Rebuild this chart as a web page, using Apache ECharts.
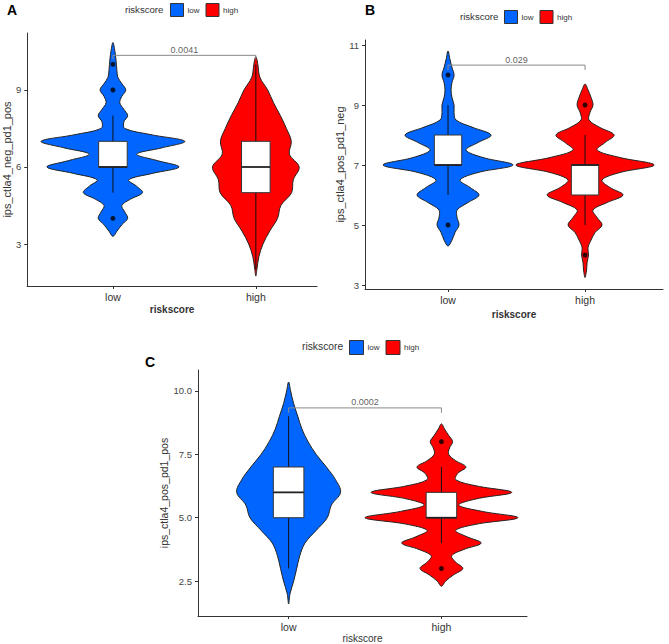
<!DOCTYPE html>
<html><head><meta charset="utf-8">
<script src="https://cdn.jsdelivr.net/npm/echarts@6/dist/echarts.min.js"></script>
<style>html,body{margin:0;padding:0;background:#fff}#c{width:669px;height:644px}</style>
</head><body><div id="c"></div>
<script>
// ---------- data ----------
const categories = ['low', 'high'];
const legendTitle = 'riskscore';
const panelLabels = ['A', 'B', 'C'];
const yNames = ['ips_ctla4_neg_pd1_pos', 'ips_ctla4_pos_pd1_neg', 'ips_ctla4_pos_pd1_pos'];
const yTicksA = [3, 6, 9];
const yTicksB = [3, 5, 7, 9, 11];
const yTicksC = [2.5, 5, 7.5, 10];
const pValues = ['0.0041', '0.029', '0.0002'];

// violin profiles: [score, half-width in category units]
const violinA_low = [[3.3,0],[3.5,0.028],[3.75,0.062],[4,0.103],[4.25,0.083],[4.5,0.062],[4.75,0.124],[5,0.207],[5.25,0.166],[5.5,0.11],[5.75,0.276],[6,0.462],[6.25,0.31],[6.5,0.166],[6.75,0.345],[7,0.503],[7.25,0.276],[7.5,0.083],[7.75,0.076],[8,0.103],[8.25,0.076],[8.5,0.048],[8.75,0.062],[9,0.09],[9.25,0.062],[9.5,0.034],[9.75,0.028],[10,0.024],[10.25,0.02],[10.5,0.014],[10.85,0]];
const violinA_high = [[1.75,0],[2,0.007],[2.5,0.021],[3,0.05],[3.5,0.097],[4,0.152],[4.5,0.175],[5,0.25],[5.5,0.262],[6,0.303],[6.5,0.235],[7,0.248],[7.5,0.214],[8,0.172],[8.5,0.124],[9,0.083],[9.5,0.028],[10,0.014],[10.3,0]];
const violinB_low = [[4.3,0],[4.5,0.029],[4.75,0.051],[5,0.08],[5.25,0.066],[5.5,0.066],[5.75,0.146],[6,0.226],[6.25,0.161],[6.5,0.088],[6.75,0.219],[7,0.474],[7.25,0.255],[7.5,0.131],[7.75,0.219],[8,0.314],[8.25,0.182],[8.5,0.058],[8.75,0.044],[9,0.044],[9.25,0.029],[9.5,0.022],[9.75,0.029],[10,0.044],[10.25,0.029],[10.5,0.015],[10.8,0]];
const violinB_high = [[3.25,0],[3.5,0.011],[3.75,0.015],[4,0.025],[4.25,0.022],[4.5,0.044],[4.75,0.073],[5,0.124],[5.25,0.088],[5.5,0.058],[5.75,0.161],[6,0.277],[6.25,0.182],[6.5,0.124],[6.75,0.255],[7,0.504],[7.25,0.255],[7.5,0.088],[7.75,0.146],[8,0.212],[8.25,0.109],[8.5,0.029],[8.75,0.036],[9,0.058],[9.25,0.044],[9.5,0.022],[9.7,0]];
const violinC_low = [[1.6,0],[2,0.009],[2.5,0.033],[3,0.053],[3.5,0.073],[4,0.107],[4.5,0.18],[5,0.253],[5.5,0.28],[6,0.34],[6.5,0.307],[7,0.247],[7.5,0.18],[8,0.127],[8.5,0.087],[9,0.06],[9.5,0.033],[10,0.013],[10.35,0]];
const violinC_high = [[2.3,0],[2.5,0.027],[2.75,0.08],[3,0.14],[3.25,0.093],[3.5,0.067],[3.75,0.147],[4,0.26],[4.25,0.167],[4.5,0.093],[4.75,0.233],[5,0.5],[5.25,0.267],[5.5,0.113],[5.75,0.233],[6,0.46],[6.25,0.233],[6.5,0.093],[6.75,0.107],[7,0.16],[7.25,0.093],[7.5,0.047],[7.75,0.053],[8,0.073],[8.25,0.047],[8.5,0.02],[8.7,0]];

// boxes: [category (1=low, 2=high), q1, median, q3, whisker low, whisker high]
const boxA = [[1,6,6,7,5,8],[2,5,6,7,2,10]];
const boxB = [[1,7,7,8,6,9],[2,6,7,7,5,8]];
const boxC = [[1,5,6,7,3,9],[2,5,5,6,4,7]];
// outliers: [category, score]
const outliersA = [[1,4],[1,9],[1,10]];
const outliersB = [[1,5],[1,10],[2,4],[2,9]];
const outliersC = [[2,3],[2,8]];
// significance bracket: [tip level, bar level]
const bracketA = [10.2, 10.35];
const bracketB = [10.17, 10.33];
const bracketC = [9.14, 9.33];

// ---------- drawing ----------
const FONT = 'Liberation Sans, Arial, sans-serif';
const BLUE = '#0066ff', RED = '#ff0000';
const BOX_HW = 0.1;

function violinItem(params, api) {
  if (params.dataIndexInside !== 0) return null;
  const n = params.dataInsideLength;
  const right = [], left = [];
  for (let i = 0; i < n; i++) {
    const c = api.value(0, i), y = api.value(1, i), w = api.value(2, i);
    right.push(api.coord([c + w, y]));
    if (w > 0) left.unshift(api.coord([c - w, y]));
  }
  return {
    type: 'polygon',
    shape: { points: right.concat(left), smooth: 0.35 },
    style: { fill: api.visual('color'), stroke: '#222', lineWidth: 1 }
  };
}
function boxItem(params, api) {
  const x = api.value(0), q1 = api.value(1), med = api.value(2), q3 = api.value(3), lo = api.value(4), hi = api.value(5);
  const pLo = api.coord([x, lo]), pQ1 = api.coord([x, q1]), pQ3 = api.coord([x, q3]), pHi = api.coord([x, hi]);
  const tl = api.coord([x - BOX_HW, q3]), br = api.coord([x + BOX_HW, q1]);
  const ml = api.coord([x - BOX_HW, med]), mr = api.coord([x + BOX_HW, med]);
  return { type: 'group', children: [
    { type: 'line', shape: { x1: pLo[0], y1: pLo[1], x2: pQ1[0], y2: pQ1[1] }, style: { stroke: '#111', lineWidth: 1 } },
    { type: 'line', shape: { x1: pQ3[0], y1: pQ3[1], x2: pHi[0], y2: pHi[1] }, style: { stroke: '#111', lineWidth: 1 } },
    { type: 'rect', shape: { x: tl[0], y: tl[1], width: br[0] - tl[0], height: br[1] - tl[1] }, style: { fill: '#fff', stroke: '#333', lineWidth: 1 } },
    { type: 'line', shape: { x1: ml[0], y1: ml[1], x2: mr[0], y2: mr[1] }, style: { stroke: '#222', lineWidth: 1.8 } }
  ]};
}

const grids = [
  { left: 23, top: 33, width: 294, height: 253 },
  { left: 365, top: 40, width: 298, height: 249 },
  { left: 198, top: 370, width: 329, height: 247 }
];
const xRanges = [[0.4, 2.428], [0.394, 2.569], [0.407, 2.56]];
const yRanges = [[1.364, 11.22], [2.867, 11.167], [1.126, 10.824]];
const yTicks = [yTicksA, yTicksB, yTicksC];
const yNameGaps = [12, 15, 28];
const xNameGaps = [18, 20, 17];
const xNameBold = ['bold', 'bold', 'normal'];
const violins = [[violinA_low, violinA_high], [violinB_low, violinB_high], [violinC_low, violinC_high]];
const boxes = [boxA, boxB, boxC];
const outliers = [outliersA, outliersB, outliersC];
const brackets = [bracketA, bracketB, bracketC];
const tickFont = [9.5, 9.5, 9.5];
const yNameFont = [11, 11, 10.5];

const xAxis = [], yAxis = [], series = [];
for (let p = 0; p < 3; p++) {
  xAxis.push({
    type: 'value', gridIndex: p, min: xRanges[p][0], max: xRanges[p][1],
    name: legendTitle, nameLocation: 'middle', nameGap: xNameGaps[p],
    nameTextStyle: { fontFamily: FONT, fontSize: 10, fontWeight: xNameBold[p], color: '#333' },
    axisLine: { show: true, onZero: false, lineStyle: { color: '#333', width: 1 } },
    axisTick: { show: true, length: 3, customValues: [1, 2], lineStyle: { color: '#333' } },
    axisLabel: { customValues: [1, 2], formatter: v => categories[Math.round(v) - 1], fontFamily: FONT, fontSize: 10.5, color: '#333', margin: 5 },
    splitLine: { show: false }
  });
  yAxis.push({
    type: 'value', gridIndex: p, min: yRanges[p][0], max: yRanges[p][1],
    name: yNames[p], nameLocation: 'middle', nameGap: yNameGaps[p],
    nameTextStyle: { fontFamily: FONT, fontSize: yNameFont[p], color: '#333' },
    axisLine: { show: true, onZero: false, lineStyle: { color: '#333', width: 1 } },
    axisTick: { show: true, length: 3, customValues: yTicks[p], lineStyle: { color: '#333' } },
    axisLabel: { customValues: yTicks[p], formatter: v => (p === 2 ? v.toFixed(1) : String(v)), fontFamily: FONT, fontSize: tickFont[p], color: '#444', margin: 6 },
    splitLine: { show: false }
  });
  const colors = [BLUE, RED];
  for (let k = 0; k < 2; k++) {
    series.push({
      type: 'custom', name: categories[k], xAxisIndex: p, yAxisIndex: p,
      itemStyle: { color: colors[k] },
      renderItem: violinItem, encode: { x: 0, y: 1 },
      data: violins[p][k].map(d => [k + 1, d[0], d[1]]), z: 2, silent: true
    });
  }
  series.push({
    type: 'custom', name: 'box' + p, xAxisIndex: p, yAxisIndex: p,
    renderItem: boxItem, encode: { x: 0, y: [1, 2, 3, 4, 5] }, data: boxes[p], z: 3, silent: true
  });
  series.push({
    type: 'scatter', name: 'outlier' + p, xAxisIndex: p, yAxisIndex: p,
    data: outliers[p], symbolSize: 5, itemStyle: { color: '#000' }, z: 4, silent: true
  });
  const b = brackets[p];
  series.push({
    type: 'line', name: 'bracket' + p, xAxisIndex: p, yAxisIndex: p,
    data: [[1, b[0]], [1, b[1]], [2, b[1]], [2, b[0]]], symbol: 'none',
    lineStyle: { color: '#8a8a8a', width: 1 }, z: 5, silent: true, animation: false
  });
  series.push({
    type: 'scatter', name: 'p' + p, xAxisIndex: p, yAxisIndex: p,
    data: [[1.5, b[1]]], symbolSize: 0,
    label: { show: true, position: 'top', distance: 1, formatter: pValues[p], fontFamily: FONT, fontSize: 9, color: '#333' },
    z: 5, silent: true
  });
}

const legendPos = [
  { left: 170, top: 3, size: 13 },
  { left: 504, top: 10, size: 13 },
  { left: 349, top: 340, size: 14 }
];
const legend = legendPos.map(l => ({
  data: categories, left: l.left, top: l.top, padding: 0, itemGap: 6,
  itemWidth: l.size, itemHeight: l.size, icon: 'rect', selectedMode: false,
  itemStyle: { borderColor: '#333', borderWidth: 1 },
  textStyle: { fontFamily: FONT, fontSize: 8, color: '#333', padding: [0, 0, 0, -1] }
}));

const graphic = [
  { type: 'text', x: 7, y: 10, style: { text: panelLabels[0], font: 'bold 14px ' + FONT, fill: '#000', verticalAlign: 'middle' } },
  { type: 'text', x: 365, y: 10, style: { text: panelLabels[1], font: 'bold 14px ' + FONT, fill: '#000', verticalAlign: 'middle' } },
  { type: 'text', x: 145, y: 362, style: { text: panelLabels[2], font: 'bold 14px ' + FONT, fill: '#000', verticalAlign: 'middle' } },
  { type: 'text', x: 125, y: 9.5, style: { text: legendTitle, font: '9.6px ' + FONT, fill: '#333', verticalAlign: 'middle' } },
  { type: 'text', x: 460, y: 16.5, style: { text: legendTitle, font: '9.6px ' + FONT, fill: '#333', verticalAlign: 'middle' } },
  { type: 'text', x: 302, y: 346.5, style: { text: legendTitle, font: '10.3px ' + FONT, fill: '#333', verticalAlign: 'middle' } }
];

const chart = echarts.init(document.getElementById('c'), null, { renderer: 'svg', width: 669, height: 644 });
chart.setOption({
  animation: false,
  backgroundColor: '#fff',
  grid: grids, xAxis, yAxis, legend, graphic, series
});
</script></body></html>
